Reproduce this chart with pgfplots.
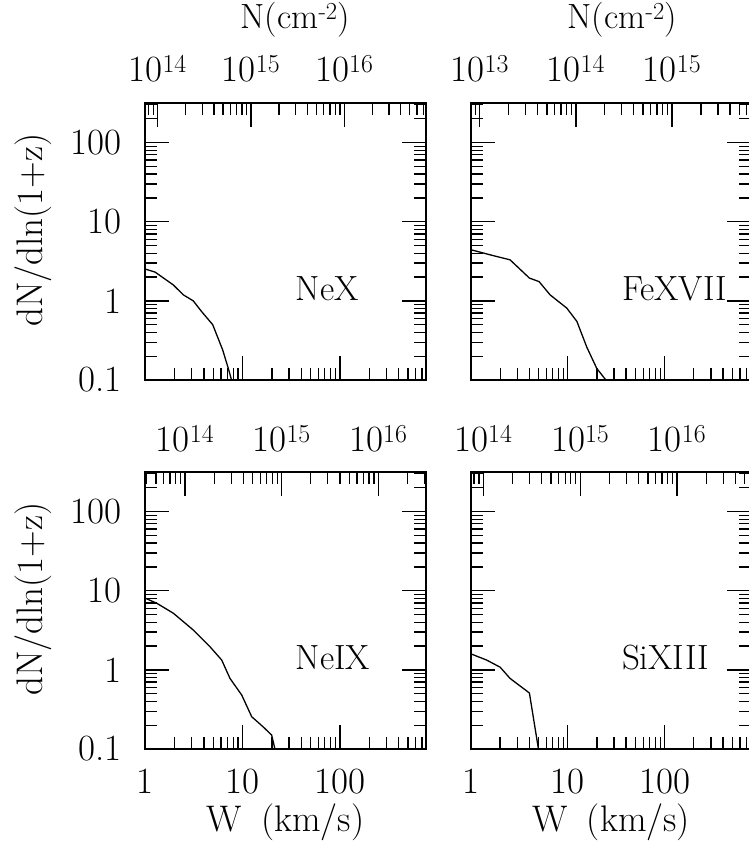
\documentclass[border=0pt]{standalone}
\usepackage{pgfplots}
\pgfplotsset{compat=1.18}
\newcommand{\tickf}{\fontsize{37}{44}\selectfont}
\newcommand{\ionf}{\fontsize{35}{42}\selectfont}
\newcommand{\titf}{\fontsize{35}{42}\selectfont}
\newcommand{\tn}[1]{10\textsuperscript{#1}}
\pgfplotstableread{
W y
1 2.52
1.26 2.31
1.94 1.59
2.46 1.19
3.11 1.0
3.8 0.73
4.93 0.50
6.24 0.24
7.13 0.14
7.7 0.1
}\neX
\pgfplotstableread{
W y
1 4.42
1.57 3.82
2.53 3.30
4.01 1.94
5.05 1.75
6.56 1.19
9.75 0.81
12.4 0.55
15.7 0.26
19.9 0.14
24.7 0.1
}\feXVII
\pgfplotstableread{
W y
1 8.04
1.31 6.95
1.94 5.2
3.11 3.19
4.62 1.96
6.1 1.33
7.42 0.78
9.8 0.48
12.4 0.256
16.3 0.19
19.9 0.15
21.5 0.1
}\neIX
\pgfplotstableread{
W y
1 1.59
1.45 1.33
2.0 1.08
2.53 0.78
4.01 0.51
4.97 0.1
}\siXIII
\pgfplotsset{
  every axis/.append style={
    scale only axis, width=280.4pt, height=277pt, anchor=south west,
    font=\tickf,
    axis line style={line width=1.7pt},
    major tick length=24pt, minor tick length=12pt,
    tick align=inside,
    tick style={black, line width=1.3pt},
    tick label style={inner sep=0pt},
  },
}
\begin{document}
\begin{tikzpicture}
% ---------- top-left ----------
\begin{loglogaxis}[at={(145.3pt,466pt)},
    ymin=0.1, ymax=316.23, xmin=1, xmax=762,
    xtick pos=bottom, ytick pos=both,
    ytick={0.1,1,10,100}, yticklabels={0.1,1,10,100},
    minor ytick={0.2,0.3,0.4,0.5,0.6,0.7,0.8,0.9,2,3,4,5,6,7,8,9,20,30,40,50,60,70,80,90,200,300},
    xtick={1,10,100}, xticklabels={},
    minor xtick={2,3,4,5,6,7,8,9,20,30,40,50,60,70,80,90,200,300,400,500,600,700},
    yticklabel style={anchor=east, xshift=-23.5pt},
    ylabel={dN/dln(1+z)},
    ylabel style={at={(axis description cs:-0.4005,0.5415)}, anchor=center, inner sep=0pt}]
\addplot[black, line width=1.3pt] table {\neX};
\node[anchor=base west, font=\ionf] at (rel axis cs:0.524,0.2857) {NeX};
\end{loglogaxis}
\begin{semilogxaxis}[at={(145.3pt,466pt)}, ymin=0, ymax=1,
  axis x line*=top, hide y axis,
  xticklabel style={anchor=base, yshift=21pt},
  xmin=7.36e13, xmax=7.45e16,
  xtick={1e14,1e15,1e16}, xticklabels={\tn{14},\tn{15},\tn{16}},
  minor xtick={8e13,9e13,2e14,3e14,4e14,5e14,6e14,7e14,8e14,9e14,2e15,3e15,4e15,5e15,6e15,7e15,8e15,9e15,2e16,3e16,4e16,5e16,6e16,7e16},
  title={N(cm\textsuperscript{-2})},
  title style={at={(axis description cs:0.535,1)}, anchor=base, yshift=68pt, inner sep=0pt, font=\titf}]
\end{semilogxaxis}
% ---------- top-right ----------
\begin{loglogaxis}[at={(471pt,466pt)},
    ymin=0.1, ymax=316.23, xmin=1, xmax=787,
    xtick pos=bottom, ytick pos=both,
    ytick={0.1,1,10,100}, yticklabels={},
    minor ytick={0.2,0.3,0.4,0.5,0.6,0.7,0.8,0.9,2,3,4,5,6,7,8,9,20,30,40,50,60,70,80,90,200,300},
    xtick={1,10,100}, xticklabels={},
    minor xtick={2,3,4,5,6,7,8,9,20,30,40,50,60,70,80,90,200,300,400,500,600,700}]
\addplot[black, line width=1.3pt] table {\feXVII};
\node[anchor=base west, font=\ionf] at (rel axis cs:0.526,0.2857) {FeXVII};
\end{loglogaxis}
\begin{semilogxaxis}[at={(471pt,466pt)}, ymin=0, ymax=1,
  axis x line*=top, hide y axis,
  xticklabel style={anchor=base, yshift=21pt},
  xmin=8.11e12, xmax=6.70e15,
  xtick={1e13,1e14,1e15}, xticklabels={\tn{13},\tn{14},\tn{15}},
  minor xtick={9e12,2e13,3e13,4e13,5e13,6e13,7e13,8e13,9e13,2e14,3e14,4e14,5e14,6e14,7e14,8e14,9e14,2e15,3e15,4e15,5e15,6e15},
  title={N(cm\textsuperscript{-2})},
  title style={at={(axis description cs:0.54,1)}, anchor=base, yshift=68pt, inner sep=0pt, font=\titf}]
\end{semilogxaxis}
% ---------- bottom-left ----------
\begin{loglogaxis}[at={(145.3pt,97pt)},
    ymin=0.1, ymax=316.23, xmin=1, xmax=762,
    xtick pos=bottom, ytick pos=both,
    ytick={0.1,1,10,100}, yticklabels={0.1,1,10,100},
    minor ytick={0.2,0.3,0.4,0.5,0.6,0.7,0.8,0.9,2,3,4,5,6,7,8,9,20,30,40,50,60,70,80,90,200,300},
    xtick={1,10,100}, xticklabels={1,10,100},
    minor xtick={2,3,4,5,6,7,8,9,20,30,40,50,60,70,80,90,200,300,400,500,600,700},
    yticklabel style={anchor=east, xshift=-23.5pt},
    xticklabel style={anchor=north, yshift=-20pt},
    xlabel={W\hspace{8pt} (km/s)},
    xlabel style={at={(axis description cs:0.5,0)}, anchor=base, yshift=-82pt, inner sep=0pt},
    ylabel={dN/dln(1+z)},
    ylabel style={at={(axis description cs:-0.4005,0.5415)}, anchor=center, inner sep=0pt}]
\addplot[black, line width=1.3pt] table {\neIX};
\node[anchor=base west, font=\ionf] at (rel axis cs:0.524,0.2857) {NeIX};
\end{loglogaxis}
\begin{semilogxaxis}[at={(145.3pt,97pt)}, ymin=0, ymax=1,
  axis x line*=top, hide y axis,
  xticklabel style={anchor=base, yshift=20pt},
  xmin=3.88e13, xmax=3.09e16,
  xtick={1e14,1e15,1e16}, xticklabels={\tn{14},\tn{15},\tn{16}},
  minor xtick={4e13,5e13,6e13,7e13,8e13,9e13,2e14,3e14,4e14,5e14,6e14,7e14,8e14,9e14,2e15,3e15,4e15,5e15,6e15,7e15,8e15,9e15,2e16,3e16}]
\end{semilogxaxis}
% ---------- bottom-right ----------
\begin{loglogaxis}[at={(471pt,97pt)},
    ymin=0.1, ymax=316.23, xmin=1, xmax=787,
    xtick pos=bottom, ytick pos=both,
    ytick={0.1,1,10,100}, yticklabels={},
    minor ytick={0.2,0.3,0.4,0.5,0.6,0.7,0.8,0.9,2,3,4,5,6,7,8,9,20,30,40,50,60,70,80,90,200,300},
    xtick={1,10,100}, xticklabels={1,10,100},
    minor xtick={2,3,4,5,6,7,8,9,20,30,40,50,60,70,80,90,200,300,400,500,600,700},
    xticklabel style={anchor=north, yshift=-20pt},
    xlabel={W\hspace{8pt} (km/s)},
    xlabel style={at={(axis description cs:0.5,0)}, anchor=base, yshift=-82pt, inner sep=0pt}]
\addplot[black, line width=1.3pt] table {\siXIII};
\node[anchor=base west, font=\ionf] at (rel axis cs:0.526,0.2857) {SiXIII};
\end{loglogaxis}
\begin{semilogxaxis}[at={(471pt,97pt)}, ymin=0, ymax=1,
  axis x line*=top, hide y axis,
  xticklabel style={anchor=base, yshift=20pt},
  xmin=7.46e13, xmax=5.86e16,
  xtick={1e14,1e15,1e16}, xticklabels={\tn{14},\tn{15},\tn{16}},
  minor xtick={8e13,9e13,2e14,3e14,4e14,5e14,6e14,7e14,8e14,9e14,2e15,3e15,4e15,5e15,6e15,7e15,8e15,9e15,2e16,3e16,4e16,5e16}]
\end{semilogxaxis}
\pgfresetboundingbox
\useasboundingbox (0,0) rectangle (749pt,846pt);
\end{tikzpicture}
\end{document}
